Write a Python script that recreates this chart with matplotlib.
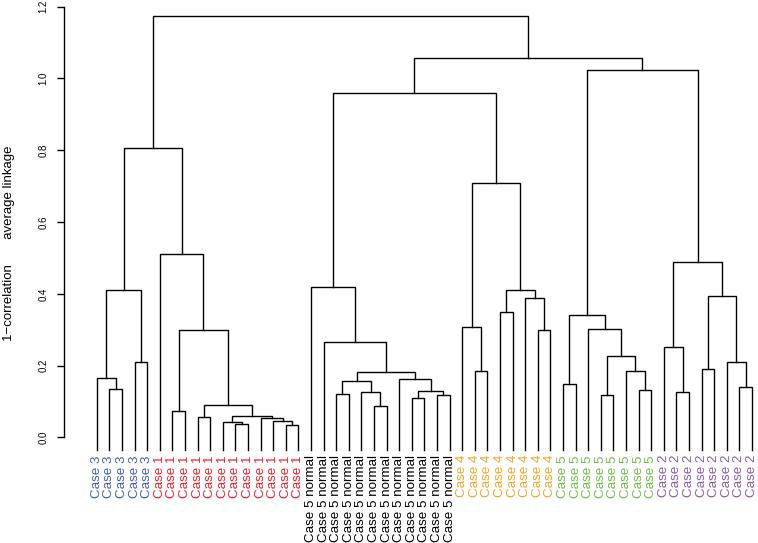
import matplotlib
matplotlib.use('Agg')
import matplotlib.pyplot as plt

plt.rcParams['font.family'] = ['Liberation Sans', 'DejaVu Sans']

# leaf groups in dendrogram order
groups = ['Case 3', 'Case 1', 'Case 5 normal', 'Case 4', 'Case 5', 'Case 2']
group_sizes = [5, 12, 12, 8, 8, 8]
group_colors = ['#3f5fb0', '#f0202a', '#000000', '#f5a623', '#6cbf45', '#8a5aae']

# merge tree: (left, right, height); ints are leaf indices
blue = ((0, (1, 2, 0.135), 0.165), (3, 4, 0.21), 0.41)
red = (5, ((6, 7, 0.075),
           ((8, 9, 0.056),
            ((10, (11, 12, 0.037), 0.043),
             (13, (14, (15, 16, 0.035), 0.046), 0.054), 0.061), 0.091), 0.30), 0.51)
black = (17, (18, (((19, 20, 0.122), (21, (22, 23, 0.088), 0.126), 0.156),
                  (24, ((25, 26, 0.11), (27, 28, 0.119), 0.128), 0.163), 0.182), 0.267), 0.42)
orange = ((29, (30, 31, 0.184), 0.307),
          ((32, 33, 0.349), (34, (35, 36, 0.298), 0.388), 0.41), 0.71)
green = ((37, 38, 0.15),
         (39, ((40, 41, 0.119), (42, (43, 44, 0.132), 0.184), 0.226), 0.303), 0.34)
purple = ((45, (46, 47, 0.126), 0.252),
          ((48, 49, 0.192), (50, (51, 52, 0.14), 0.209), 0.395), 0.49)
tree = ((blue, red, 0.807),
        ((black, orange, 0.96), (green, purple, 1.023), 1.057), 1.175)

leaf_bottom = -0.035

labels = []
colors = []
for g, n, c in zip(groups, group_sizes, group_colors):
    labels += [g] * n
    colors += [c] * n

fig = plt.figure(figsize=(7.58, 5.43), dpi=100)
ax = fig.add_axes([64 / 758, (543 - 450) / 543, (758 - 64) / 758, (450 - 6.7) / 543])


def draw(node):
    if isinstance(node, int):
        return node, leaf_bottom
    left, right, h = node
    xl, hl = draw(left)
    xr, hr = draw(right)
    ax.plot([xl, xl, xr, xr], [hl, h, h, hr], color='black', lw=1.0,
            solid_joinstyle='miter', clip_on=False)
    return (xl + xr) / 2, h


draw(tree)

for i, (lab, c) in enumerate(zip(labels, colors)):
    ax.text(i, leaf_bottom - 0.014, lab, rotation=90, ha='center', va='top',
            fontsize=9.6, color=c, clip_on=False)

n = len(labels)
ax.set_xlim(-2.6, n - 1 + 0.48)
ax.set_ylim(leaf_bottom, 1.2)
for s in ['top', 'right', 'bottom']:
    ax.spines[s].set_visible(False)
ax.spines['left'].set_bounds(0, 1.2)
ax.spines['left'].set_linewidth(1.0)
ax.set_xticks([])
yt = [0.0, 0.2, 0.4, 0.6, 0.8, 1.0, 1.2]
ax.set_yticks(yt)
ax.set_yticklabels(['%.1f' % v for v in yt], rotation=90, va='center', fontsize=7)
ax.tick_params(axis='y', length=5, width=1.0, pad=6)

fig.text(9.5 / 758, 1 - 243.5 / 543, '1\u2212correlation       average linkage',
         rotation=90, ha='center', va='center', fontsize=9.5)

fig.savefig('out.png', dpi=100)
